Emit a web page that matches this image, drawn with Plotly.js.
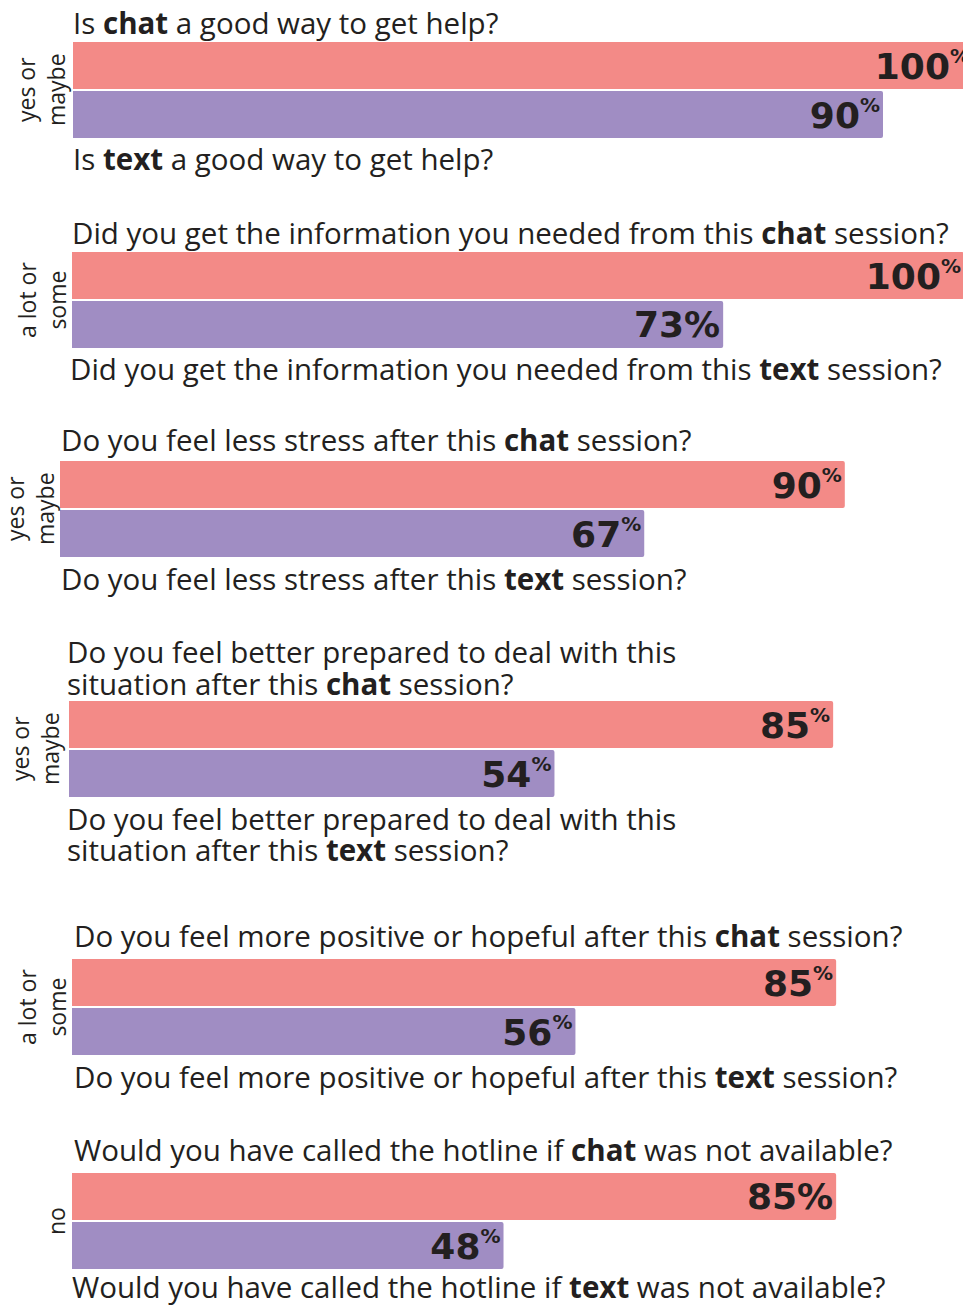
<!DOCTYPE html>
<html>
<head>
<meta charset="utf-8">
<script src="https://cdn.plot.ly/plotly-3.0.1.min.js"></script>
<style>html,body{margin:0;padding:0;background:#fff;}#chart{width:963px;height:1305px;}</style>
</head>
<body>
<div id="chart"></div>
<script>
// ---------- DATA ----------
const seriesNames = ['chat', 'text'];
const chatQuestions = [
  'Is <b>chat</b> a good way to get help?',
  'Did you get the information you needed from this <b>chat</b> session?',
  'Do you feel less stress after this <b>chat</b> session?',
  'Do you feel better prepared to deal with this<br>situation after this <b>chat</b> session?',
  'Do you feel more positive or hopeful after this <b>chat</b> session?',
  'Would you have called the hotline if <b>chat</b> was not available?'
];
const textQuestions = [
  'Is <b>text</b> a good way to get help?',
  'Did you get the information you needed from this <b>text</b> session?',
  'Do you feel less stress after this <b>text</b> session?',
  'Do you feel better prepared to deal with this<br>situation after this <b>text</b> session?',
  'Do you feel more positive or hopeful after this <b>text</b> session?',
  'Would you have called the hotline if <b>text</b> was not available?'
];
const answerLabels = ['yes or<br>maybe', 'a lot or<br>some', 'yes or<br>maybe', 'yes or<br>maybe', 'a lot or<br>some', 'no'];
const chatValues = [100, 100, 90, 85, 85, 85];
const textValues = [90, 73, 67, 54, 56, 48];

// ---------- LAYOUT / STYLE ----------
const W = 963, H = 1305;
const chatColor = '#F38A87', textColor = '#A08DC3', ink = '#231F20';
const qFont = {family: '"Open Sans", Lato, sans-serif', size: 29.5, color: ink};
const sideFont = {family: '"Open Sans", Lato, sans-serif', size: 23, color: ink};
const numFont = {family: '"DejaVu Sans", Roboto, sans-serif', size: 36, color: ink, weight: 700};
const lineGap = 32;
// per group: left edge px, pixel position of 100%, bar band top/bottom px, title centre y, title x, side label x
const geo = [
  {left: 73, full: 973, top: 41,  bottom: 139,  tY: 22,  tX: 72, bY: 159,  bX: 72, sX: 41, chatPlain: false, textPlain: false},
  {left: 72, full: 964, top: 251, bottom: 349,  tY: 232, tX: 71, bY: 368,  bX: 69, sX: 42, chatPlain: false, textPlain: true},
  {left: 60, full: 932, top: 460, bottom: 558,  tY: 440, tX: 60, bY: 578,  bX: 60, sX: 30, chatPlain: false, textPlain: false},
  {left: 69, full: 968, top: 700, bottom: 798,  tY: 651, tX: 66, bY: 818,  bX: 66, sX: 35, chatPlain: false, textPlain: false},
  {left: 72, full: 971, top: 958, bottom: 1056, tY: 935, tX: 73, bY: 1076, bX: 73, sX: 42, chatPlain: false, textPlain: false},
  {left: 72, full: 971, top: 1172, bottom: 1270, tY: 1149, tX: 73, bY: 1286, bX: 71, sX: 56, chatPlain: true, textPlain: false}
];

const pct = (v, plain) => v + (plain ? '%' : '<sup><span style="font-size:20px">%</span></sup>');
const traces = [];
const layout = {
  width: W, height: H,
  margin: {l: 0, r: 0, t: 0, b: 0},
  paper_bgcolor: '#fff', plot_bgcolor: '#fff',
  showlegend: false,
  bargap: 0.04,
  annotations: []
};
const px = x => x / W;
const py = y => 1 - y / H;

geo.forEach((g, i) => {
  const n = i + 1;
  const xa = 'x' + (n === 1 ? '' : n), ya = 'y' + (n === 1 ? '' : n);
  const xk = 'xaxis' + (n === 1 ? '' : n), yk = 'yaxis' + (n === 1 ? '' : n);
  const right = Math.min(g.full, W);
  const rangeMax = 100 * (right - g.left) / (g.full - g.left);
  traces.push({
    type: 'bar', orientation: 'h',
    y: seriesNames, x: [chatValues[i], textValues[i]],
    text: [pct(chatValues[i], g.chatPlain), pct(textValues[i], g.textPlain)],
    textposition: 'inside', insidetextanchor: 'end', constraintext: 'none',
    textfont: numFont, cliponaxis: true,
    xaxis: xa, yaxis: ya,
    marker: {color: [chatColor, textColor], line: {width: 0}, cornerradius: 2},
    hoverinfo: 'skip'
  });
  layout[xk] = {domain: [px(g.left), px(right)], range: [0, rangeMax], visible: false, fixedrange: true, anchor: ya};
  layout[yk] = {domain: [py(g.bottom), py(g.top)], type: 'category', categoryorder: 'array',
                categoryarray: ['text', 'chat'], visible: false, fixedrange: true, anchor: xa};

  // question titles (one annotation per line)
  chatQuestions[i].split('<br>').forEach((line, k) => {
    layout.annotations.push({x: px(g.tX), y: py(g.tY + k * lineGap), xref: 'paper', yref: 'paper',
      xanchor: 'left', yanchor: 'middle', text: line, showarrow: false, font: qFont, borderpad: 0});
  });
  textQuestions[i].split('<br>').forEach((line, k) => {
    layout.annotations.push({x: px(g.bX), y: py(g.bY + k * lineGap), xref: 'paper', yref: 'paper',
      xanchor: 'left', yanchor: 'middle', text: line, showarrow: false, font: qFont, borderpad: 0});
  });

  // side answer label
  layout.annotations.push({x: px(g.sX), y: py((g.top + g.bottom) / 2), xref: 'paper', yref: 'paper',
    xanchor: 'center', yanchor: 'middle', textangle: -90, text: answerLabels[i], showarrow: false,
    font: sideFont, borderpad: 0});
});

Plotly.newPlot('chart', traces, layout, {displayModeBar: false, staticPlot: true});
</script>
</body>
</html>
